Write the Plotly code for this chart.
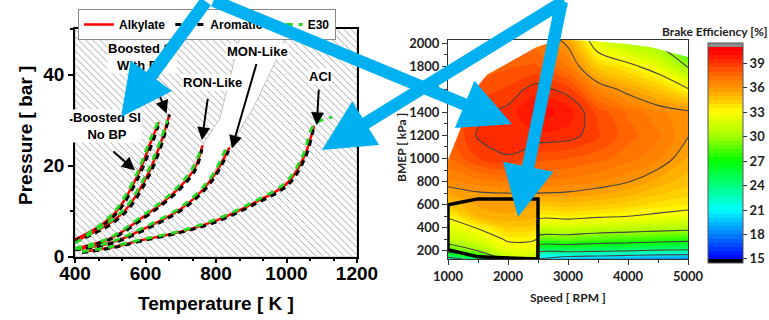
import plotly.graph_objects as go

W, H = 769, 320

# ===================== LEFT PANEL : compression paths =====================
# Boosted SI, no back pressure
nobp_alk_T = [400, 455, 500, 528, 580, 617, 638]
nobp_alk_P = [3.8, 6.0, 8.6, 11.0, 18.3, 25.6, 29.6]
nobp_aro_T = [400, 458, 503, 532, 584, 620, 636]
nobp_aro_P = [3.6, 5.8, 8.4, 10.9, 18.1, 25.2, 28.8]
nobp_e30_T = [400, 452, 497, 525, 577, 614, 641]
nobp_e30_P = [3.2, 5.9, 8.7, 11.2, 18.5, 25.9, 30.4]
# Boosted SI, with back pressure
wbp_alk_T = [400, 467, 510, 551, 608, 646, 667]
wbp_alk_P = [3.4, 5.9, 8.0, 11.0, 18.3, 25.6, 31.0]
wbp_aro_T = [400, 470, 514, 555, 611, 648, 668]
wbp_aro_P = [3.2, 5.7, 7.8, 10.8, 18.0, 25.2, 31.3]
wbp_e30_T = [400, 464, 507, 548, 605, 644, 662]
wbp_e30_P = [3.0, 6.0, 8.2, 11.2, 18.6, 25.9, 30.0]
# RON-like
ron_alk_T = [400, 500, 594, 650, 700, 740, 762]
ron_alk_P = [1.8, 4.0, 8.8, 12.0, 15.5, 19.5, 24.5]
ron_aro_T = [400, 503, 597, 653, 703, 742, 760]
ron_aro_P = [1.7, 3.9, 8.6, 11.8, 15.3, 19.2, 23.6]
ron_e30_T = [400, 497, 591, 647, 697, 737, 758]
ron_e30_P = [1.9, 4.1, 9.0, 12.2, 15.8, 19.9, 24.0]
# MON-like
mon_alk_T = [400, 500, 600, 700, 760, 800, 838]
mon_alk_P = [1.6, 3.0, 6.3, 10.5, 14.5, 18.5, 24.0]
mon_aro_T = [400, 503, 603, 703, 763, 802, 836]
mon_aro_P = [1.5, 2.9, 6.1, 10.3, 14.3, 18.2, 23.3]
mon_e30_T = [400, 497, 597, 697, 757, 797, 830]
mon_e30_P = [1.7, 3.1, 6.5, 10.7, 14.8, 18.8, 24.3]
# ACI
aci_alk_T = [420, 500, 593, 700, 802, 900, 1001, 1050, 1078]
aci_alk_P = [1.0, 2.0, 3.7, 5.5, 8.0, 11.5, 16.1, 22.0, 28.8]
aci_aro_T = [420, 503, 596, 703, 805, 903, 1004, 1052, 1076]
aci_aro_P = [0.9, 1.9, 3.6, 5.4, 7.8, 11.3, 15.8, 21.6, 28.0]
aci_e30_T = [420, 497, 590, 697, 799, 897, 998, 1047, 1078, 1130]
aci_e30_P = [1.1, 2.1, 3.8, 5.6, 8.2, 11.7, 16.4, 22.4, 29.0, 30.7]

# non-hatched band (between RON-like and MON-like limits)
band_left_T = [560, 600, 700, 762, 811, 840, 877]
band_left_P = [5.5, 8.5, 15.0, 24.5, 30.4, 39.8, 51.0]
band_right_T = [560, 600, 700, 760, 838, 905, 973, 1012]
band_right_P = [5.5, 6.3, 10.3, 14.3, 24.0, 32.6, 43.6, 51.0]

T_range = [400, 1200]
P_range = [0, 50]
T_ticks = [400, 600, 800, 1000, 1200]
P_ticks = [0, 20, 40]

# ===================== RIGHT PANEL : brake efficiency map =====================
speed_rpm = [1000, 1500, 2000, 2470, 2500, 3000, 3500, 4000, 4500, 5000]
bmep_kpa = [130, 200, 300, 400, 500, 600, 700, 800, 1000, 1200, 1400, 1600, 1800, 2030]
eff_1000 = [23.0, 28.0, 31.2, 32.0, 33.2, 34.5, 35.5, 36.4, 37.4, 37.8, 37.5, 37.0, 36.5, 36.0]
eff_1500 = [25.0, 30.0, 32.0, 33.1, 35.0, 35.6, 35.9, 36.8, 38.5, 39.1, 38.8, 38.2, 37.6, 37.0]
eff_2000 = [31.0, 32.2, 33.2, 34.4, 35.4, 35.8, 36.0, 37.0, 38.9, 39.5, 39.2, 38.6, 37.9, 37.2]
eff_2470 = [30.8, 32.0, 33.0, 34.2, 35.1, 35.5, 36.0, 36.9, 38.3, 39.4, 40.2, 39.3, 38.1, 37.1]
eff_2500 = [20.5, 25.0, 29.2, 31.7, 33.5, 34.7, 36.0, 36.9, 38.2, 39.4, 40.3, 39.3, 38.0, 37.0]
eff_3000 = [19.5, 24.5, 29.0, 31.5, 33.5, 34.8, 35.9, 36.8, 38.0, 39.3, 39.8, 38.7, 37.0, 35.6]
eff_3500 = [19.0, 24.3, 28.5, 31.2, 33.2, 34.6, 35.6, 36.5, 37.7, 38.6, 38.3, 36.7, 34.3, 31.8]
eff_4000 = [18.6, 24.0, 28.3, 31.0, 33.0, 34.3, 35.2, 36.05, 37.2, 37.7, 37.4, 35.6, 33.4, 30.3]
eff_4500 = [18.2, 23.7, 28.0, 30.8, 32.7, 33.8, 34.6, 35.3, 36.6, 37.1, 36.6, 34.6, 32.2, 29.3]
eff_5000 = [18.0, 23.6, 27.7, 30.6, 32.4, 33.5, 34.2, 34.7, 35.4, 36.05, 36.2, 33.1, 29.8, 26.5]
eff_columns = [eff_1000, eff_1500, eff_2000, eff_2470, eff_2500,
               eff_3000, eff_3500, eff_4000, eff_4500, eff_5000]

# outline of the measured region (area above it is blank)
mask_speed = [1000, 1000, 1500, 1650, 2480, 2850, 3420, 3980, 4370, 5000, 5000, 1000]
mask_bmep = [2100, 990, 1630, 1725, 1965, 2030, 2018, 1991, 1965, 1879, 2100, 2100]
# highlighted operating box
box_speed = [1000, 1500, 2500, 2500, 1500, 1000, 1000]
box_bmep = [600, 650, 650, 131, 149, 210, 600]

speed_ticks = [1000, 2000, 3000, 4000, 5000]
bmep_ticks = [200, 400, 600, 800, 1000, 1200, 1400, 1600, 1800, 2000]
cbar_ticks = [15, 18, 21, 24, 27, 30, 33, 36, 39]
speed_range = [1000, 5000]
bmep_range = [130, 2026]

# ---------------------------------------------------------------------------
ARIAL = "Liberation Sans"
CAL = "Lato"
BLUE = "#00B0F0"

fig = go.Figure()

# hatched background (rectangle with the band cut out)
hx = [T_range[0], T_range[1], T_range[1], T_range[0], T_range[0], None]
hy = [P_range[0], P_range[0], 51.0, 51.0, P_range[0], None]
hx += band_left_T + band_right_T[::-1]
hy += band_left_P + band_right_P[::-1]
fig.add_trace(go.Scatter(
    x=hx, y=hy, mode="lines", fill="toself", fillcolor="white",
    fillpattern=dict(shape="\\", size=5, solidity=0.12, fgcolor="#6a6a6a", bgcolor="white"),
    line=dict(color="#a8a8a8", width=0.7), hoverinfo="skip", showlegend=False,
    xaxis="x", yaxis="y"))

groups = [
    (nobp_alk_T, nobp_alk_P, nobp_aro_T, nobp_aro_P, nobp_e30_T, nobp_e30_P),
    (wbp_alk_T, wbp_alk_P, wbp_aro_T, wbp_aro_P, wbp_e30_T, wbp_e30_P),
    (ron_alk_T, ron_alk_P, ron_aro_T, ron_aro_P, ron_e30_T, ron_e30_P),
    (mon_alk_T, mon_alk_P, mon_aro_T, mon_aro_P, mon_e30_T, mon_e30_P),
    (aci_alk_T, aci_alk_P, aci_aro_T, aci_aro_P, aci_e30_T, aci_e30_P),
]
for gi, (aT, aP, rT, rP, eT, eP) in enumerate(groups):
    first = gi == 0
    fig.add_trace(go.Scatter(x=aT, y=aP, mode="lines", name="Alkylate",
                             line=dict(color="#FF0000", width=2.5, shape="spline"),
                             showlegend=first, xaxis="x", yaxis="y"))
    fig.add_trace(go.Scatter(x=rT, y=rP, mode="lines", name="Aromatic",
                             line=dict(color="#000000", width=3, dash="6px,5px", shape="spline"),
                             showlegend=first, xaxis="x", yaxis="y"))
    fig.add_trace(go.Scatter(x=eT, y=eP, mode="lines", name="E30",
                             line=dict(color="#22DD22", width=2.8, dash="7px,6px", shape="spline"),
                             showlegend=first, xaxis="x", yaxis="y"))

# ---- right panel
z = [list(row) for row in zip(*eff_columns)]
vmin, vmax = 14.5, 41.5
def cpos(v):
    return (v - vmin) / (vmax - vmin)
cscale = [
    [0.0, "#000000"], [cpos(14.98), "#000000"], [cpos(15.0), "#0000FF"],
    [cpos(18), "#0080FF"], [cpos(21), "#00FFFF"], [cpos(24), "#00FF80"],
    [cpos(27), "#00FF00"], [cpos(30), "#A0FF00"], [cpos(33), "#FFFF00"],
    [cpos(34.5), "#FFC800"], [cpos(36), "#FF9600"], [cpos(37.5), "#FF6E00"],
    [cpos(39), "#FF3200"], [cpos(40.5), "#FF0000"],
    [cpos(41.0), "#FF0000"], [cpos(41.02), "#8C8C8C"], [1.0, "#8C8C8C"],
]
fig.add_trace(go.Contour(
    x=speed_rpm, y=bmep_kpa, z=z, colorscale=cscale, zmin=vmin, zmax=vmax,
    contours=dict(coloring="fill", showlines=False, start=14.5, end=41.5, size=0.5),
    line=dict(width=0), hoverinfo="skip",
    colorbar=dict(x=708 / W, xanchor="left", y=1 - 43 / H, yanchor="top",
                  len=220 / H, lenmode="fraction", thickness=35, thicknessmode="pixels",
                  tickvals=cbar_ticks, ticks="outside", ticklen=4, tickcolor="#333",
                  tickfont=dict(family=CAL, size=13, color="#222", weight="bold"),
                  outlinewidth=1, outlinecolor="#555", xpad=0, ypad=0),
    xaxis="x2", yaxis="y2"))
fig.add_trace(go.Contour(
    x=speed_rpm, y=bmep_kpa, z=z, showscale=False,
    colorscale=[[0, "#454545"], [1, "#454545"]],
    contours=dict(coloring="lines", start=18, end=39, size=3),
    line=dict(width=1.1), hoverinfo="skip", xaxis="x2", yaxis="y2"))
fig.add_trace(go.Scatter(
    x=mask_speed, y=mask_bmep, mode="lines", fill="toself", fillcolor="white",
    line=dict(width=0, color="white"), hoverinfo="skip", showlegend=False,
    xaxis="x2", yaxis="y2"))
fig.add_trace(go.Scatter(
    x=box_speed, y=box_bmep, mode="lines", line=dict(color="black", width=3.4),
    hoverinfo="skip", showlegend=False, xaxis="x2", yaxis="y2"))

# ---- axes
left_font = dict(family=ARIAL, size=19, color="black", weight="bold")
right_font = dict(family=CAL, size=13, color="#222", weight="bold")
fig.update_layout(
    width=W, height=H, margin=dict(l=0, r=0, t=0, b=0),
    template="none", paper_bgcolor="white", plot_bgcolor="white",
    showlegend=True,
    legend=dict(orientation="h", x=207 / W, xanchor="center", y=1 - 9 / H, yanchor="top",
                bgcolor="white", bordercolor="#888", borderwidth=1,
                font=dict(family=ARIAL, size=12, color="black", weight="bold"),
                itemwidth=30, tracegroupgap=0),
    xaxis=dict(domain=[75 / W, 357 / W], range=T_range, tickvals=T_ticks,
               showline=True, linecolor="black", linewidth=1.5, mirror=True,
               ticks="outside", ticklen=5, tickwidth=1.5, tickcolor="black",
               ticklabelstandoff=-6,
               minor=dict(dtick=200 / 3, ticks="outside", ticklen=3, tickcolor="black"),
               tickfont=left_font, showgrid=False, zeroline=False, automargin=False, anchor="y"),
    yaxis=dict(domain=[1 - 256.7 / H, 1 - 29.3 / H], range=P_range, tickvals=P_ticks,
               showline=True, linecolor="black", linewidth=1.5, mirror=True,
               ticks="outside", ticklen=5, tickwidth=1.5, tickcolor="black",
               minor=dict(dtick=10, ticks="outside", ticklen=3, tickcolor="black"),
               tickfont=left_font, showgrid=False, zeroline=False, automargin=False, anchor="x"),
    xaxis2=dict(domain=[448 / W, 688 / W], range=speed_range, tickvals=speed_ticks,
                showline=True, linecolor="#333", linewidth=1, mirror=True,
                ticks="outside", ticklen=5, tickcolor="#333",
                minor=dict(dtick=500, ticks="outside", ticklen=3, tickcolor="#333"),
                tickfont=right_font, showgrid=False, zeroline=False, automargin=False, anchor="y2"),
    yaxis2=dict(domain=[1 - 259 / H, 1 - 40 / H], range=bmep_range, tickvals=bmep_ticks,
                showline=True, linecolor="#333", linewidth=1, mirror=True,
                ticks="outside", ticklen=5, tickcolor="#333",
                minor=dict(dtick=100, ticks="outside", ticklen=3, tickcolor="#333"),
                tickfont=right_font, showgrid=False, zeroline=False, automargin=False, anchor="x2"),
)

ann = []
def title(text, px, py, font, angle=0):
    ann.append(dict(text=text, x=px / W, y=1 - py / H, xref="paper", yref="paper",
                    xanchor="center", yanchor="middle", textangle=angle,
                    showarrow=False, font=font))

tf_left = dict(family=ARIAL, size=19, color="black", weight="bold")
tf_right = dict(family=CAL, size=12, color="#222", weight="bold")
title("Temperature [ K ]", 216, 303, tf_left)
title("Pressure [ bar ]", 25, 136, tf_left, -90)
title("Speed [ RPM ]", 568, 297, tf_right)
title("BMEP [ kPa ]", 401, 148, tf_right, -90)
title("Brake Efficiency [%]", 715, 31, tf_right)

# case labels and pointers (left panel)
labels = [
    ("Boosted SI<br>With BP", 590, 44.0),
    ("RON-Like", 789, 38.3),
    ("MON-Like", 919, 45.1),
    ("ACI", 1095, 39.6),
    ("Boosted SI<br>No BP", 491, 28.7),
]
pointers = [  # tip (T, P), tail offset in px
    (660, 31.5, -12, -31),
    (760, 25.6, 6, -43),
    (845, 23.8, 25, -86),
    (1086, 28.9, 2, -37),
    (570, 19.0, -23, -20),
]
for t, lx, ly in labels:
    ann.append(dict(text=t, x=lx, y=ly, xref="x", yref="y", showarrow=False,
                    xanchor="center", yanchor="middle", bgcolor="white", borderpad=0,
                    font=dict(family=ARIAL, size=13, color="black", weight="bold")))
for tx, ty, ax, ay in pointers:
    ann.append(dict(text="", x=tx, y=ty, xref="x", yref="y", ax=ax, ay=ay,
                    showarrow=True, arrowhead=2, arrowsize=1.3, arrowwidth=2,
                    arrowcolor="black"))

# big blue call-out arrows (pixel positions on the canvas)
blue_arrows = [  # tail x, tail y, tip x, tip y
    (207, -4, 121, 117),
    (212, -4, 512, 124),
    (562, -4, 518, 217),
    (566, -4, 322, 150),
]
for sx, sy, ex, ey in blue_arrows:
    ann.append(dict(text="", x=ex / W, y=1 - ey / H, xref="paper", yref="paper",
                    ax=sx - ex, ay=sy - ey, showarrow=True, arrowhead=2,
                    arrowsize=0.82, arrowwidth=12.5, arrowcolor=BLUE))

fig.update_layout(annotations=ann)
fig.write_html("out.html")
